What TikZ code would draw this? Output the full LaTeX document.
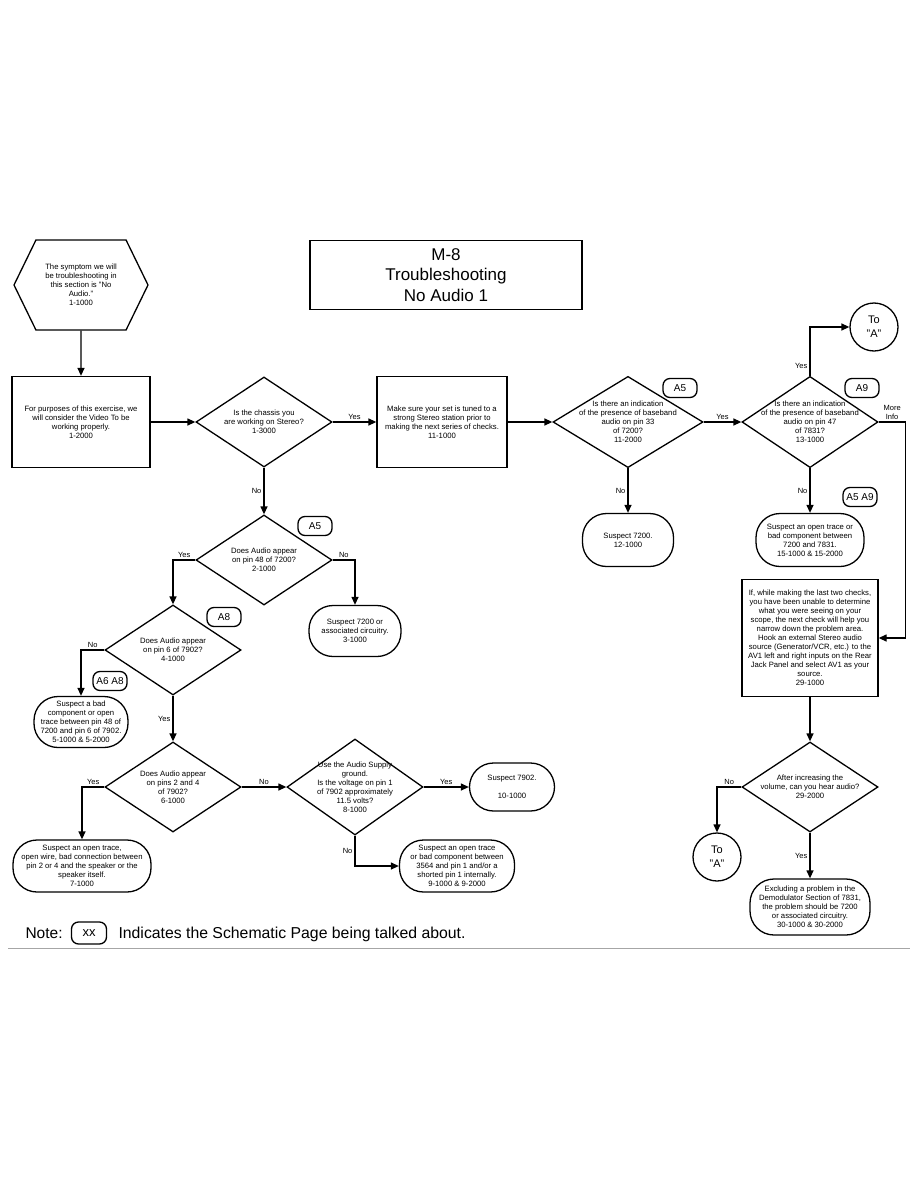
\documentclass[tikz,border=0pt]{standalone}
\usepackage{fontspec}
\setmainfont{Liberation Sans}
\usetikzlibrary{shapes.geometric, shapes.symbols, arrows.meta, positioning}
\tikzstyle{process}   = [rectangle, draw=black, line width=1.3pt, align=center]
\tikzstyle{decision}  = [diamond, draw=black, line width=1.3pt, align=center, inner sep=-12pt,
                         minimum width=136pt, minimum height=90pt]
\tikzstyle{terminal}  = [rectangle, rounded corners=24pt, draw=black, line width=1.3pt,
                         align=center, inner sep=1pt]
\tikzstyle{symptom}   = [signal, signal to=east and west, signal pointer angle=128,
                         draw=black, line width=1.3pt, align=center]
\tikzstyle{pagetag}   = [rectangle, rounded corners=7pt, draw=black, line width=1.3pt,
                         minimum width=34pt, minimum height=19pt, inner sep=2pt,
                         font=\fontsize{10}{12}\selectfont]
\tikzstyle{connector} = [circle, draw=black, line width=1.3pt, minimum size=48pt, inner sep=0pt,
                         align=center, font=\fontsize{11}{14}\selectfont]
\tikzstyle{arrow}     = [line width=1.3pt, -{Triangle[length=8pt, width=7pt]}]
\tikzstyle{answer}    = [font=\fontsize{7.5}{8.5}\selectfont, inner sep=2pt]

\begin{document}
\begin{tikzpicture}[x=1pt, y=-1pt, every node/.style={font=\fontsize{7.7}{9}\selectfont}]
  \useasboundingbox (0,0) rectangle (918,1188);

  % Start and title
  \node (symptom) [symptom, minimum width=134pt, minimum height=90pt] at (81,285)
        {The symptom we will\\be  troubleshooting in\\this section is "No\\Audio."\\1-1000};
  \node (title) [process, minimum width=272pt, minimum height=69pt,
        font=\fontsize{17}{20.5}\selectfont] at (446,275) {M-8\\Troubleshooting\\No Audio 1};

  % Main row
  \node (setup)  [process, minimum width=138pt, minimum height=91pt] at (81,422)
        {For purposes of this exercise, we\\will consider the Video To be\\working properly.\\1-2000};
  \node (stereo) [decision] at (264,422) {Is the chassis you\\are working on Stereo?\\1-3000};
  \node (tune)   [process, minimum width=130pt, minimum height=91pt] at (442,422)
        {Make sure your set is tuned to a\\strong Stereo station prior to\\making the next series of checks.\\11-1000};
  \node (pin33)  [decision, minimum width=150pt] at (628,422)
        {Is there an indication\\of the presence of baseband\\audio on pin 33\\of 7200?\\11-2000};
  \node (pin47)  [decision] at (810,422)
        {Is there an indication\\of the presence of baseband\\audio on pin 47\\of 7831?\\13-1000};
  \node (toA1)   [connector] at (874,327) {To\\"A"};

  % Non-stereo branch
  \node (pin48)   [decision] at (264,560) {Does Audio appear\\on pin 48 of 7200?\\2-1000};
  \node (sus7200) [terminal, minimum width=92pt, minimum height=51pt] at (355,631)
        {Suspect 7200 or\\associated circuitry.\\3-1000};
  \node (pin6)    [decision] at (173,650) {Does Audio appear\\on pin 6 of 7902?\\4-1000};
  \node (susbad)  [terminal, minimum width=94pt, minimum height=51pt] at (81,722)
        {Suspect a bad\\component or open\\trace between pin 48 of\\7200 and pin 6 of 7902.\\5-1000 \& 5-2000};
  \node (pins24)  [decision] at (173,787) {Does Audio appear\\on pins 2 and 4\\of 7902?\\6-1000};
  \node (susspk)  [terminal, minimum width=138pt, minimum height=52pt] at (82,866)
        {Suspect an open trace,\\open wire,  bad connection between\\pin 2 or 4 and the speaker or the\\speaker itself.\\7-1000};
  \node (supply)  [decision, minimum height=96pt] at (355,787)
        {Use the Audio Supply\\ground.\\Is the voltage on pin 1\\of 7902 approximately\\11.5 volts?\\8-1000};
  \node (sus7902) [terminal, minimum width=85pt, minimum height=48pt] at (512,787)
        {Suspect 7902.\\[9pt]10-1000};
  \node (sus3564) [terminal, minimum width=115pt, minimum height=52pt] at (457,866)
        {Suspect an open trace\\or bad component between\\3564 and pin 1 and/or a\\shorted pin 1 internally.\\9-1000 \& 9-2000};

  % Stereo branch
  \node (sus7200b) [terminal, minimum width=91pt, minimum height=53pt] at (628,540)
        {Suspect 7200.\\12-1000};
  \node (sus7831)  [terminal, minimum width=108pt, minimum height=53pt] at (810,540)
        {Suspect an open trace or\\bad component between\\7200 and 7831.\\15-1000 \& 15-2000};
  \node (external) [process, minimum width=136pt, minimum height=117pt] at (810,638)
        {If, while making the last two checks,\\you have been unable to determine\\what you were seeing on your\\scope, the next check will help you\\narrow down the problem area.\\Hook an external Stereo audio\\source (Generator/VCR, etc.) to the\\AV1 left and right inputs on the Rear\\Jack Panel and select AV1 as your\\source.\\29-1000};
  \node (volume)   [decision] at (810,787) {After increasing the\\volume, can you hear audio?\\29-2000};
  \node (toA2)     [connector] at (717,857) {To\\"A"};
  \node (demod)    [terminal, minimum width=120pt, minimum height=56pt] at (810,907)
        {Excluding a problem in the\\Demodulator Section of 7831,\\the problem should be 7200\\or associated circuitry.\\30-1000 \& 30-2000};

  % Schematic page tags
  \node (tagA5a)  [pagetag] at (680,388) {A5};
  \node (tagA9)   [pagetag] at (862,388) {A9};
  \node (tagA5b)  [pagetag] at (315,526) {A5};
  \node (tagA8)   [pagetag] at (224,617) {A8};
  \node (tagA6A8) [pagetag] at (110,681) {A6 A8};
  \node (tagA5A9) [pagetag] at (860,497) {A5 A9};

  % Note
  \node (note)    [font=\fontsize{15.5}{18}\selectfont, anchor=base west] at (22,938) {Note:};
  \node (tagxx)   [pagetag, minimum width=35pt, minimum height=22pt,
        font=\fontsize{13}{15}\selectfont] at (89,933) {xx};
  \node (explain) [font=\fontsize{15.8}{18}\selectfont, anchor=base west] at (115,938)
        {Indicates the Schematic Page being talked about.};
  \draw[black!35, line width=1pt] (8,948) -- (910,948);

  % Main row
  \draw[arrow] (symptom) -- (setup);
  \draw[arrow] (setup) -- (stereo);
  \draw[arrow] (stereo) -- node[answer, above]{Yes} (tune);
  \draw[arrow] (stereo) -- node[answer, left]{No} (pin48);
  \draw[arrow] (tune) -- (pin33);
  \draw[arrow] (pin33) -- node[answer, above]{Yes} (pin47);
  \draw[arrow] (pin33) -- node[answer, left]{No} (sus7200b);
  \draw[arrow] (pin47.north) |- node[answer, left, pos=0.1]{Yes} (toA1);
  \draw[arrow] (pin47.east) -- node[answer, above, align=center]{More\\Info} ++(27,0) |- (external.east);
  \draw[arrow] (pin47) -- node[answer, left]{No} (sus7831);
  \draw[arrow] (external) -- (volume);
  \draw[arrow] (volume.west) -| node[answer, above, pos=0.25]{No} (toA2);
  \draw[arrow] (volume) -- node[answer, left]{Yes} (demod);
  % Non-stereo branch
  \draw[arrow] (pin48.west) -| node[answer, above, pos=0.25]{Yes} (pin6);
  \draw[arrow] (pin48.east) -| node[answer, above, pos=0.25]{No} (sus7200);
  \draw[arrow] (pin6.west) -| node[answer, above, pos=0.25]{No} (susbad);
  \draw[arrow] (pin6) -- node[answer, left]{Yes} (pins24);
  \draw[arrow] (pins24.west) -| node[answer, above, pos=0.25]{Yes} (susspk);
  \draw[arrow] (pins24) -- node[answer, above]{No} (supply);
  \draw[arrow] (supply) -- node[answer, above]{Yes} (sus7902);
  \draw[arrow] (supply.south) |- node[answer, left, pos=0.25]{No} (sus3564);

\end{tikzpicture}
\end{document}
